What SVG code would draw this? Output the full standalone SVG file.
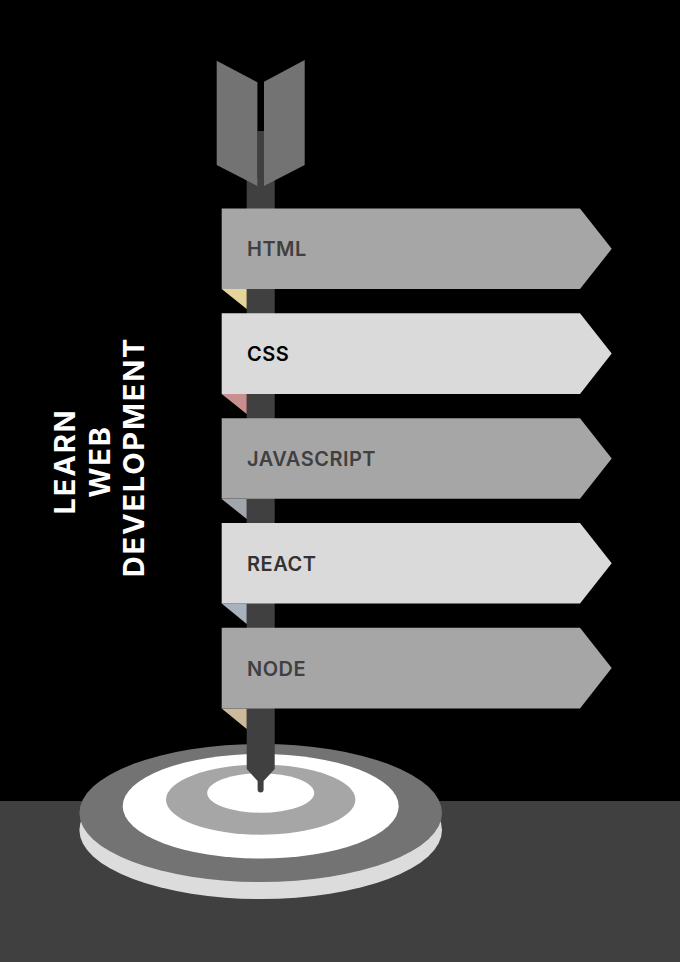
<svg xmlns="http://www.w3.org/2000/svg" width="680" height="962" viewBox="0 0 680 962">
<style>
.lbl{font-family:"Inter","Liberation Sans",sans-serif;font-weight:600;font-size:20px;letter-spacing:.5px}
.ttl{font-family:"Inter","Liberation Sans",sans-serif;font-weight:700;font-size:29px;letter-spacing:1.8px;fill:#fff;text-anchor:middle}
.g1{fill:#a6a6a6}.g2{fill:#dadada}
</style>
<defs>
<polygon id="b" points="221.7,0 580,0 611.7,40.3 580,80.6 221.7,80.6"/>
</defs>
<rect width="680" height="962" fill="#000"/>
<rect id="ground" y="801" width="680" height="161" fill="#404040"/>
<g id="target">
<ellipse cx="260.7" cy="830" rx="181.3" ry="69" fill="#dcdcdc"/>
<ellipse cx="260.7" cy="813" rx="181.3" ry="69" fill="#737373"/>
<ellipse cx="260.7" cy="806.3" rx="138" ry="52.3" fill="#fff"/>
<ellipse cx="260.7" cy="799.7" rx="94.7" ry="35" fill="#a6a6a6"/>
<ellipse cx="260.7" cy="793" rx="53.5" ry="19.7" fill="#fff"/>
</g>
<g id="arrow">
<rect x="257.4" y="131" width="6.6" height="56" fill="#404040"/>
<path d="M246.7 178H274.7V769L263.6 781V789.5A3 3 0 0 1 257.6 789.5V781L246.7 769Z" fill="#404040"/>
<polygon points="216.7,60.7 257.4,82.3 257.4,186 216.7,165" fill="#737373"/>
<polygon points="304.7,60 264,81.7 264,186 304.7,165" fill="#737373"/>
</g>
<g id="folds">
<polygon points="221.7,289 246.7,289 246.7,309" fill="#e6d59a"/>
<polygon points="221.7,394 246.7,394 246.7,414" fill="#c98f8f"/>
<polygon points="221.7,499 246.7,499 246.7,519" fill="#a0a6ab"/>
<polygon points="221.7,603.5 246.7,603.5 246.7,624" fill="#a8b2bc"/>
<polygon points="221.7,708.5 246.7,708.5 246.7,729" fill="#cdb99c"/>
</g>
<g id="html"><use href="#b" y="208.5" class="g1"/><text class="lbl" x="247" y="256" fill="#404040">HTML</text></g>
<g id="css"><use href="#b" y="313.3" class="g2"/><text class="lbl" x="247" y="361" fill="#000">CSS</text></g>
<g id="javascript"><use href="#b" y="418.2" class="g1"/><text class="lbl" x="247" y="466" fill="#404040">JAVASCRIPT</text></g>
<g id="react"><use href="#b" y="523" class="g2"/><text class="lbl" x="247" y="571" fill="#333">REACT</text></g>
<g id="node"><use href="#b" y="627.8" class="g1"/><text class="lbl" x="247" y="676" fill="#404040">NODE</text></g>
<g id="title">
<text class="ttl" transform="translate(75,461.5) rotate(-90)">LEARN</text>
<text class="ttl" transform="translate(109.5,461.5) rotate(-90)">WEB</text>
<text class="ttl" transform="translate(144,457) rotate(-90)">DEVELOPMENT</text>
</g>
</svg>
